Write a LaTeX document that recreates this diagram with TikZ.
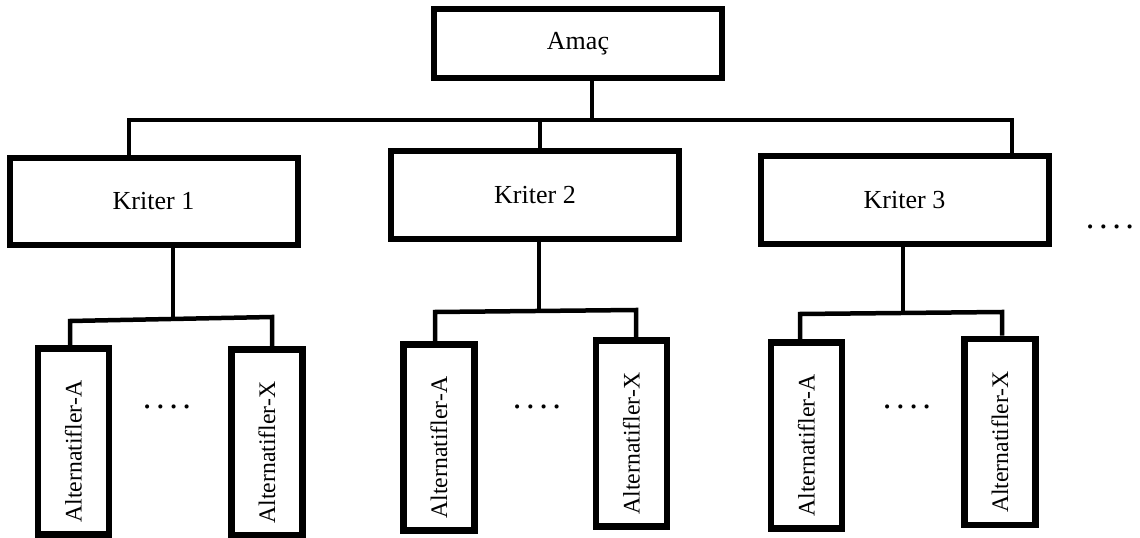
\documentclass[tikz,border=0pt]{standalone}
\usepackage{fontspec}
\setmainfont{Liberation Serif}
% one drawing unit = one pixel of the 1140 x 538 layout
\newcommand\pxu{0.75pt}
\newcommand\fourdots{.\hspace{0.13em}.\hspace{0.13em}.\hspace{0.13em}.}
\begin{document}
\begin{tikzpicture}[x=0.75pt,y=-0.75pt,
  topbox/.style={draw, line width=6*\pxu, inner sep=0pt,
    minimum width=288*\pxu, minimum height=88*\pxu,
    font=\fontsize{19.5}{23}\selectfont},
  altbox/.style={draw, line width=6.5*\pxu, inner sep=0pt,
    minimum width=71*\pxu, minimum height=186*\pxu},
  alttext/.style={rotate=90, inner sep=0pt,
    font=\fontsize{17.8}{21}\selectfont},
  conn/.style={line width=4.5*\pxu, line join=miter},
  dotsnode/.style={anchor=base, inner sep=0pt,
    font=\fontsize{26}{30}\selectfont}]
\useasboundingbox (0,0) rectangle (1140,538);

% goal and criteria
\node[topbox, minimum height=69*\pxu] (amac) at (578,43.5) {Amaç};
\node[topbox, minimum height=87*\pxu] (k1) at (153.5,201.5) {Kriter 1};
\node[topbox] (k2) at (535,195) {Kriter 2};
\node[topbox] (k3) at (904.5,200) {Kriter 3};
\node[dotsnode] (kd) at (1110,229) {\fourdots};

% alternatives under each criterion
\node[altbox] (a1) at (73.5,441.5) {};
\node[altbox] (x1) at (267,442.5) {};
\node[altbox] (a2) at (439,437.5) {};
\node[altbox] (x2) at (631.5,433.5) {};
\node[altbox] (a3) at (806.5,435.5) {};
\node[altbox] (x3) at (1000,432) {};

\foreach \b/\t in {a1/A, x1/X, a2/A, x2/X, a3/A, x3/X}
  \node[alttext] at ([yshift=-10*\pxu]\b.center) {Alternatifler-\t};

\node[dotsnode] (d1) at (167,409) {\fourdots};
\node[dotsnode] (d2) at (537,409) {\fourdots};
\node[dotsnode] (d3) at (907,409) {\fourdots};

% junction points of the connectors
\coordinate (t0) at (592,120);
\coordinate (j1) at (129,120);
\coordinate (j2) at (540,120);
\coordinate (j3) at (1012,120);

\coordinate (m1) at (173,319);
\coordinate (l1) at (70,321);
\coordinate (r1) at (272,317);
\coordinate (m2) at (539,311);
\coordinate (l2) at (435,312);
\coordinate (r2) at (636,310);
\coordinate (m3) at (903,313);
\coordinate (l3) at (800,314);
\coordinate (r3) at (1002,312);

% goal to criteria
\draw[conn] (amac.south -| t0) -- (t0);
\draw[conn] (k1.north -| j1) -- (j1) -- (j3) -- (k3.north -| j3);
\draw[conn] (j2) -- (k2.north -| j2);

% criteria to alternatives
\draw[conn] (k1.south -| m1) -- (m1);
\draw[conn] (a1.north -| l1) -- (l1) -- (r1) -- (x1.north -| r1);
\draw[conn] (k2.south -| m2) -- (m2);
\draw[conn] (a2.north -| l2) -- (l2) -- (r2) -- (x2.north -| r2);
\draw[conn] (k3.south -| m3) -- (m3);
\draw[conn] (a3.north -| l3) -- (l3) -- (r3) -- (x3.north -| r3);
\end{tikzpicture}
\end{document}
